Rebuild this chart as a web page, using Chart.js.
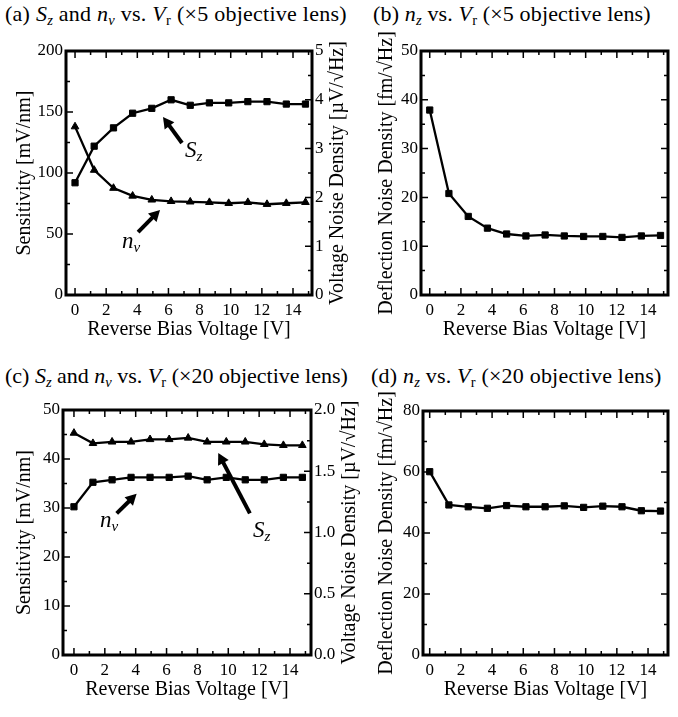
<!DOCTYPE html>
<html>
<head>
<meta charset="utf-8">
<script src="https://cdn.jsdelivr.net/npm/chart.js@4.4.1/dist/chart.umd.min.js"></script>
<style>
  body { margin: 0; background: #fff; width: 678px; height: 717px; position: relative; overflow: hidden; font-family: "Liberation Serif", "Times New Roman", serif; }
  .ttl { position: absolute; font-size: 22px; line-height: 1; white-space: nowrap; color: #000; }
  .ttl sub { font-size: 0.66em; vertical-align: -0.25em; line-height: 0; }
  canvas { position: absolute; }
</style>
</head>
<body>
<div class="ttl" style="left:5px;top:3px;letter-spacing:0.25px">(a) <i>S</i><sub><i>z</i></sub> and <i>n</i><sub><i>v</i></sub> vs. <i>V</i><sub>r</sub> (×5 objective lens)</div>
<div class="ttl" style="left:373px;top:3px;letter-spacing:0.15px">(b) <i>n</i><sub><i>z</i></sub> vs. <i>V</i><sub>r</sub> (×5 objective lens)</div>
<div class="ttl" style="left:5px;top:365px">(c) <i>S</i><sub><i>z</i></sub> and <i>n</i><sub><i>v</i></sub> vs. <i>V</i><sub>r</sub> (×20 objective lens)</div>
<div class="ttl" style="left:371px;top:365px;letter-spacing:0.2px">(d) <i>n</i><sub><i>z</i></sub> vs. <i>V</i><sub>r</sub> (×20 objective lens)</div>

<canvas id="ca" width="365" height="315" style="left:0;top:30px"></canvas>
<canvas id="cb" width="313" height="315" style="left:365px;top:30px"></canvas>
<canvas id="cc" width="365" height="315" style="left:0;top:390px"></canvas>
<canvas id="cd" width="313" height="315" style="left:365px;top:390px"></canvas>

<script>
// reverse bias voltage [V], same for every panel
const biasV = [0, 1.23, 2.47, 3.7, 4.93, 6.17, 7.4, 8.63, 9.87, 11.1, 12.33, 13.57, 14.8];

// x5 objective lens
const sensX5 = [92, 122, 137, 149, 153, 160, 155.5, 157.5, 157.5, 158.5, 158.5, 156.5, 156.5];   // mV/nm
const noiseVX5 = [3.45, 2.56, 2.19, 2.03, 1.95, 1.92, 1.91, 1.9, 1.88, 1.9, 1.86, 1.88, 1.9];    // uV/rtHz
const deflX5 = [37.9, 20.8, 16.1, 13.7, 12.5, 12.1, 12.3, 12.1, 12.0, 12.0, 11.8, 12.1, 12.2];    // fm/rtHz

// x20 objective lens
const sensX20 = [45.3, 43.2, 43.5, 43.5, 44.0, 44.0, 44.3, 43.5, 43.5, 43.5, 43.0, 42.8, 42.8];
const noiseVX20 = [1.21, 1.41, 1.43, 1.45, 1.45, 1.45, 1.46, 1.43, 1.45, 1.43, 1.43, 1.45, 1.45];
const deflX20 = [60.1, 49.2, 48.6, 48.1, 49.0, 48.6, 48.6, 48.9, 48.4, 48.8, 48.6, 47.3, 47.2];

// tick labels
const xTicks = [0, 2, 4, 6, 8, 10, 12, 14];
const sensTicksX5 = [0, 50, 100, 150, 200];
const noiseTicksX5 = [0, 1, 2, 3, 4, 5];
const deflTicksX5 = [0, 10, 20, 30, 40, 50];
const sensTicksX20 = [0, 10, 20, 30, 40, 50];
const noiseTicksX20 = ['0.0', '0.5', '1.0', '1.5', '2.0'];
const deflTicksX20 = [0, 20, 40, 60, 80];

const FONT = '"Liberation Serif", "Times New Roman", serif';
const tickFont = { family: FONT, size: 17, lineHeight: 1 };
const axisFont = { family: FONT, size: 20, lineHeight: 1 };

// frame with inward ticks on all four sides, plus arrows and right-hand axis title
const extrasPlugin = {
    id: 'extras',
    afterDraw(chart, args, o) {
        const { ctx, chartArea: a, scales } = chart;
        const yr = scales.y2 || scales.y;
        ctx.save();
        ctx.strokeStyle = '#000';
        ctx.fillStyle = '#000';
        ctx.lineWidth = 1.5;

        function marks(scale, minor, major, draw) {
            for (let v = 0; v <= scale.max + 1e-9; v += minor) {
                const isMajor = Math.abs(v / major - Math.round(v / major)) < 1e-6;
                draw(scale.getPixelForValue(v), isMajor ? 7 : 4);
            }
        }
        ctx.beginPath();
        marks(scales.x, 1, 2, (p, l) => {
            ctx.moveTo(p, a.bottom); ctx.lineTo(p, a.bottom - l);
            ctx.moveTo(p, a.top); ctx.lineTo(p, a.top + l);
        });
        marks(scales.y, o.yMinor, o.yMajor, (p, l) => {
            ctx.moveTo(a.left, p); ctx.lineTo(a.left + l, p);
        });
        marks(yr, o.rMinor, o.rMajor, (p, l) => {
            ctx.moveTo(a.right, p); ctx.lineTo(a.right - l, p);
        });
        ctx.stroke();

        ctx.lineWidth = 3;
        ctx.strokeRect(a.left, a.top, a.width, a.height);

        // arrows with italic labels
        (o.notes || []).forEach(n => {
            const x0 = scales.x.getPixelForValue(n.from[0]), y0 = scales.y.getPixelForValue(n.from[1]);
            const x1 = scales.x.getPixelForValue(n.to[0]), y1 = scales.y.getPixelForValue(n.to[1]);
            const ang = Math.atan2(y1 - y0, x1 - x0);
            const hl = 11, hw = 6;
            ctx.lineWidth = 4;
            ctx.beginPath();
            ctx.moveTo(x0, y0);
            ctx.lineTo(x1 - Math.cos(ang) * hl * 0.8, y1 - Math.sin(ang) * hl * 0.8);
            ctx.stroke();
            ctx.beginPath();
            ctx.moveTo(x1, y1);
            ctx.lineTo(x1 - Math.cos(ang) * hl - Math.sin(ang) * hw, y1 - Math.sin(ang) * hl + Math.cos(ang) * hw);
            ctx.lineTo(x1 - Math.cos(ang) * hl + Math.sin(ang) * hw, y1 - Math.sin(ang) * hl - Math.cos(ang) * hw);
            ctx.closePath();
            ctx.fill();

            const tx = scales.x.getPixelForValue(n.x), ty = scales.y.getPixelForValue(n.y);
            ctx.textAlign = 'left';
            ctx.textBaseline = 'alphabetic';
            ctx.font = 'italic 23px ' + FONT;
            ctx.fillText(n.text, tx, ty);
            const w = ctx.measureText(n.text).width;
            ctx.font = 'italic 15px ' + FONT;
            ctx.fillText(n.sub, tx + w, ty + 4);
        });

        // right axis title, reading bottom to top
        if (o.rightTitle) {
            ctx.font = '17px ' + FONT;
            const lw = Math.max(...yr.ticks.map(t => ctx.measureText(String(t.label)).width));
            const cx = a.right + 3 + lw + 14;
            ctx.translate(cx, (a.top + a.bottom) / 2);
            ctx.rotate(-Math.PI / 2);
            ctx.font = '20px ' + FONT;
            ctx.textAlign = 'center';
            ctx.textBaseline = 'middle';
            ctx.fillText(o.rightTitle, 0, 0);
        }
        ctx.restore();
    }
};

function series(ys, axis, style) {
    return {
        data: biasV.map((x, i) => ({ x: x, y: ys[i] })),
        yAxisID: axis,
        borderColor: '#000',
        backgroundColor: '#000',
        borderWidth: 2.3,
        pointStyle: style,
        pointRadius: 4.4,
        pointBorderWidth: 1,
        tension: 0
    };
}

function yAxis(ticks, width, titleText, titlePad, position, labels) {
    return {
        type: 'linear',
        position: position,
        min: Number(ticks[0]),
        max: Number(ticks[ticks.length - 1]),
        afterBuildTicks: s => { s.ticks = ticks.map(v => ({ value: Number(v) })); },
        afterFit: s => { s.width = width; },
        grid: { display: false, drawTicks: false },
        border: { display: false },
        ticks: {
            font: tickFont, color: '#000', padding: 3,
            callback: (v, i) => labels ? labels[i] : v
        },
        title: {
            display: !!titleText, text: titleText, font: axisFont, color: '#000',
            padding: { top: titlePad, bottom: 0 }
        }
    };
}

function makePanel(id, p) {
    const scales = {
        x: {
            type: 'linear',
            min: p.xMin, max: p.xMax,
            afterBuildTicks: s => { s.ticks = xTicks.map(v => ({ value: v })); },
            afterFit: s => { s.height = 50; },
            grid: { display: false, drawTicks: false },
            border: { display: false },
            ticks: { font: tickFont, color: '#000', padding: 7, maxRotation: 0, autoSkip: false },
            title: { display: true, text: 'Reverse Bias Voltage [V]', font: axisFont, color: '#000', padding: { top: 0, bottom: 5 } }
        },
        y: yAxis(p.yTicks, p.yWidth, p.yTitle, p.yTitlePad, 'left')
    };
    if (p.rTicks) {
        scales.y2 = yAxis(p.rTicks, p.rWidth, '', 0, 'right', p.rLabels);
    }
    return new Chart(document.getElementById(id), {
        type: 'line',
        data: { datasets: p.datasets },
        options: {
            responsive: false,
            animation: false,
            devicePixelRatio: 1,
            layout: { padding: p.padding },
            plugins: {
                legend: { display: false },
                tooltip: { enabled: false },
                extras: {
                    yMajor: p.yMajor, yMinor: p.yMinor,
                    rMajor: p.rMajor, rMinor: p.rMinor,
                    rightTitle: p.rightTitle, notes: p.notes
                }
            },
            scales: scales
        },
        plugins: [extrasPlugin]
    });
}

makePanel('ca', {
    xMin: -0.58, xMax: 15.22,
    padding: { top: 21, left: 0, right: 0, bottom: 0 },
    yTicks: sensTicksX5, yWidth: 66, yTitle: 'Sensitivity [mV/nm]', yTitlePad: 15,
    yMajor: 50, yMinor: 25,
    rTicks: noiseTicksX5, rWidth: 53, rMajor: 1, rMinor: 0.5,
    rightTitle: 'Voltage Noise Density [µV/√Hz]',
    datasets: [series(sensX5, 'y', 'rect'), series(noiseVX5, 'y2', 'triangle')],
    notes: [
        { text: 'S', sub: 'z', x: 7.07, y: 113, from: [6.87, 124.6], to: [5.65, 145.9] },
        { text: 'n', sub: 'v', x: 3.02, y: 38.5, from: [4.05, 51.6], to: [5.46, 69.7] }
    ]
});

makePanel('cb', {
    xMin: -0.56, xMax: 15.28,
    padding: { top: 21, left: 0, right: 10, bottom: 0 },
    yTicks: deflTicksX5, yWidth: 56, yTitle: 'Deflection Noise Density [fm/√Hz]', yTitlePad: 12,
    yMajor: 10, yMinor: 5, rMajor: 10, rMinor: 5,
    datasets: [series(deflX5, 'y', 'rect')]
});

makePanel('cc', {
    xMin: -0.71, xMax: 15.36,
    padding: { top: 20, left: 0, right: 0, bottom: 0 },
    yTicks: sensTicksX20, yWidth: 63, yTitle: 'Sensitivity [mV/nm]', yTitlePad: 15,
    yMajor: 10, yMinor: 5,
    rTicks: noiseTicksX20, rLabels: noiseTicksX20, rWidth: 54, rMajor: 0.5, rMinor: 0.25,
    rightTitle: 'Voltage Noise Density [µV/√Hz]',
    datasets: [series(sensX20, 'y', 'triangle'), series(noiseVX20, 'y2', 'rect')],
    notes: [
        { text: 'S', sub: 'z', x: 11.6, y: 24.1, from: [11.4, 28.9], to: [9.35, 41.2] },
        { text: 'n', sub: 'v', x: 1.69, y: 26.1, from: [2.77, 28.9], to: [4.06, 32.9] }
    ]
});

makePanel('cd', {
    xMin: -0.43, xMax: 15.28,
    padding: { top: 21, left: 0, right: 10, bottom: 0 },
    yTicks: deflTicksX20, yWidth: 58, yTitle: 'Deflection Noise Density [fm/√Hz]', yTitlePad: 12,
    yMajor: 20, yMinor: 10, rMajor: 20, rMinor: 10,
    datasets: [series(deflX20, 'y', 'rect')]
});
</script>
</body>
</html>
